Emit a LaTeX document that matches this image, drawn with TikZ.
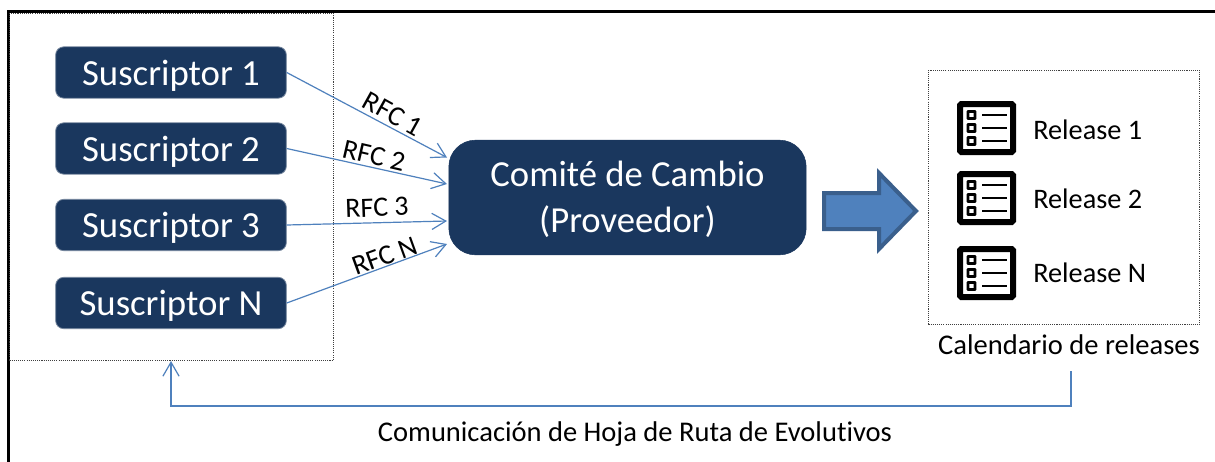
\documentclass[tikz,border=0pt]{standalone}
\usepackage{fontspec}
\setmainfont{Carlito}[Ligatures=NoCommon]
\usetikzlibrary{arrows.meta}
\definecolor{navy}{HTML}{1A375E}
\definecolor{blueline}{HTML}{4F81BD}
\definecolor{bluedark}{HTML}{3A5F8C}
\tikzset{
 x=0.75pt,y=-0.75pt,
 subs/.style={draw=navy!60!white,line width=0.6pt,fill=navy,rounded corners=6pt,text=white,minimum width=173pt,minimum height=38.5pt,inner sep=0pt,text height=20.8pt,text depth=2pt,font=\fontsize{27.6}{30}\selectfont},
 dotbox/.style={draw=black!75,line width=0.7pt,dash pattern=on 0.8pt off 0.8pt},
 conn/.style={draw=blueline,line width=0.9pt,-{Straight Barb[length=10.5pt,width=12pt,angle'=60,line width=0.9pt]}},
 rfc/.style={font=\fontsize{21}{24}\selectfont,inner sep=0pt},
 rel/.style={font=\fontsize{21.2}{24}\selectfont,inner sep=0pt,anchor=west},
 caption/.style={font=\fontsize{21.4}{24}\selectfont,inner sep=0pt},
 iconframe/.style={draw=black,line width=4.5pt,rounded corners=1pt,fill=white},
 iconline/.style={draw=black,line width=2pt},
 iconbullet/.style={draw=black,line width=2.2pt,fill=white,rounded corners=0.4pt},
}
\newcommand{\relicon}[2]{%
 \draw[iconframe] (#1+3,#2+3) rectangle (#1+56,#2+51);
 \foreach \yy in {14,27,40}{
  \draw[iconbullet] (#1+11,#2+\yy-3.5) rectangle (#1+18,#2+\yy+3.5);
  \draw[iconline] (#1+25,#2+\yy) -- (#1+50,#2+\yy);
 }}
\begin{document}
\begin{tikzpicture}
\useasboundingbox (0,0) rectangle (1215,461);
\fill[white] (0,0) rectangle (1215,461);
\draw[black,line width=2.4pt] (8.5,464) -- (8.5,11.5) -- (1218,11.5);
\node[dotbox,minimum width=243pt,minimum height=260pt,inner sep=0pt,anchor=north west] (left) at (9,13) {};
\node[dotbox,minimum width=203.5pt,minimum height=190.5pt,inner sep=0pt,anchor=north west] (right) at (928,70) {};
\node[subs] (s1) at (171,72.5) {Suscriptor 1};
\node[subs] (s2) at (171,148.5) {Suscriptor 2};
\node[subs] (s3) at (171,225) {Suscriptor 3};
\node[subs] (sn) at (171,303) {Suscriptor N};
\node[draw=navy,fill=navy,rounded corners=20pt,text=white,minimum width=268pt,minimum height=86pt,inner sep=0pt,align=center,text depth=1pt,font=\fontsize{27.5}{34}\selectfont] (cc) at (627.5,197.5) {Comité de Cambio\\(Proveedor)};
\coordinate (c1) at (447,157.5);
\coordinate (c2) at (447,184);
\coordinate (c3) at (447,221);
\coordinate (c4) at (447,244);
\draw[conn] (s1.east) -- (c1);
\draw[conn] (s2.east) -- (c2);
\draw[conn] (s3.east) -- (c3);
\draw[conn] (sn.east) -- (c4);
\node[rfc,rotate=-29] (r1) at (393,114) {RFC 1};
\node[rfc,rotate=-13] (r2) at (374,155.5) {RFC 2};
\node[rfc,rotate=2] (r3) at (377,207.5) {RFC 3};
\node[rfc,rotate=20] (r4) at (385,256) {RFC N};
\draw[draw=bluedark,fill=blueline,line width=3pt,miter limit=10] (824,193) -- (879,193) -- (879,173) -- (916,211) -- (879,249) -- (879,229) -- (824,229) -- cycle;
\relicon{957}{101}
\relicon{957}{171}
\relicon{957}{246}
\node[rel] (t1) at (1033,130) {Release 1};
\node[rel] (t2) at (1033,199) {Release 2};
\node[rel] (t3) at (1033,273) {Release N};
\node[caption] (cal) at (1069,345) {Calendario de releases};
\coordinate (down) at (1071,371);
\coordinate (tip) at (171,361);
\draw[conn] (down) -- (1071,406) -- (171,406) -- (tip);
\node[caption] (com) at (635,434) {Comunicación de Hoja de Ruta de Evolutivos};
\end{tikzpicture}
\end{document}
